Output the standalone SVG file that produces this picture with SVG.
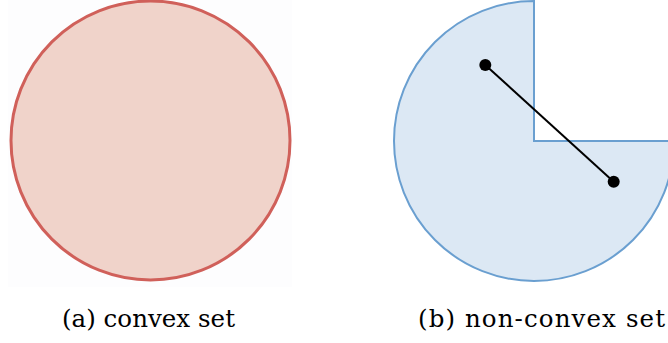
<svg xmlns="http://www.w3.org/2000/svg" width="668" height="343" viewBox="0 0 668 343">
  <style>
    .label { font-family: "DejaVu Serif", "Liberation Serif", serif; font-size: 24.5px; fill: #000; }
    .dot { fill: #000; }
  </style>
  <rect width="668" height="343" fill="#ffffff"/>
  <g id="convex">
    <rect x="8" y="0" width="284" height="287" fill="#fdfdfe"/>
    <circle cx="150.5" cy="140.5" r="139.5" fill="#f0d3ca" stroke="#d0605a" stroke-width="3"/>
  </g>
  <g id="nonconvex">
    <path d="M534,141 L674,141 A140,140 0 1 1 534,1 Z" fill="#dce8f4" stroke="#6a9fd0" stroke-width="2" stroke-linejoin="miter"/>
  </g>
  <g id="connectors">
    <line x1="485.3" y1="65" x2="613.7" y2="181.7" stroke="#000" stroke-width="2"/>
  </g>
  <g id="points">
    <circle class="dot" cx="485.3" cy="65" r="6"/>
    <circle class="dot" cx="613.7" cy="181.7" r="6"/>
  </g>
  <g id="labels">
    <text class="label" x="62" y="327" textLength="173">(a) convex set</text>
    <text class="label" x="418" y="327" textLength="247">(b) non-convex set</text>
  </g>
</svg>
